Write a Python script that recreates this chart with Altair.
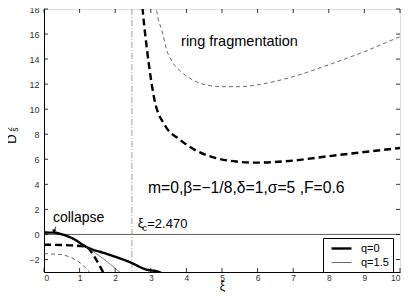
import altair as alt
import pandas as pd

# ---- data ----
q0_upper_xi = [2.74, 2.77, 2.9, 3.1, 3.4, 3.8, 4.27, 4.83, 5.4, 5.95, 7.0, 8.0, 9.0, 10.0]
q0_upper_D = [19.0, 18.0, 14.6, 10.8, 8.7, 7.6, 6.7, 6.1, 5.82, 5.73, 5.9, 6.25, 6.58, 6.9]

q15_upper_xi = [3.12, 3.16, 3.32, 3.46, 3.6, 3.85, 4.08, 4.4, 5.0, 5.5, 6.0, 7.0, 8.0, 9.0, 10.0]
q15_upper_D = [19.0, 18.0, 16.2, 14.6, 13.8, 13.0, 12.5, 12.05, 11.8, 11.8, 11.95, 12.6, 13.55, 14.6, 15.8]

q0_low_solid_xi = [0.0, 0.3, 0.45, 0.82, 1.19, 1.75, 2.4, 2.87, 3.24, 3.3]
q0_low_solid_D = [0.15, 0.14, 0.05, -0.34, -1.0, -1.54, -2.2, -2.8, -3.0, -3.1]

q0_low_dash_xi = [0.0, 0.73, 1.0, 1.19, 1.42, 1.66, 1.7]
q0_low_dash_D = [-0.82, -0.87, -0.92, -1.0, -1.8, -3.0, -3.2]

q15_low_solid_xi = [1.19, 1.66, 2.12, 2.16]
q15_low_solid_D = [-1.0, -1.93, -3.0, -3.1]

q15_low_dash_xi = [0.0, 0.45, 0.82, 1.1, 1.28, 1.32]
q15_low_dash_D = [-1.54, -1.6, -1.93, -2.47, -3.0, -3.1]

xi_c = [2.47]
x_ticks = list(range(0, 11))
y_ticks = list(range(-2, 19, 2))
q_labels = ["q=0", "q=1.5"]

curves = [
    ("q0u", q_labels[0], q0_upper_xi, q0_upper_D),
    ("q15u", q_labels[1], q15_upper_xi, q15_upper_D),
    ("q0ls", q_labels[0], q0_low_solid_xi, q0_low_solid_D),
    ("q0ld", q_labels[0], q0_low_dash_xi, q0_low_dash_D),
    ("q15ls", q_labels[1], q15_low_solid_xi, q15_low_solid_D),
    ("q15ld", q_labels[1], q15_low_dash_xi, q15_low_dash_D),
]
rows = []
for cid, q, xs_, ys_ in curves:
    for i, (a, b) in enumerate(zip(xs_, ys_)):
        rows.append({"curve": cid, "q": q, "xi": a, "D": b, "i": i})
df = pd.DataFrame(rows)

W, H = 356, 263
FONT = "Liberation Sans"

xs = alt.Scale(domain=[0, 10], nice=False, zero=False)
ys = alt.Scale(domain=[-3, 18], nice=False, zero=False)
X_AX = alt.Axis(values=x_ticks, title="ξ", grid=False, tickSize=0, labelPadding=1,
                labelFontSize=8.5, labelColor="#333", labelOverlap=False, labelFont=FONT,
                titleFont=FONT, titleFontSize=12, titleFontWeight="normal",
                titlePadding=-1, domainColor="black")
Y_AX = alt.Axis(values=y_ticks, title=None, grid=False, tickSize=0, labelPadding=5,
                labelFontSize=9, labelColor="#333", labelOverlap=False, labelFont=FONT,
                domainColor="black")


def X(field="xi"):
    return alt.X(f"{field}:Q", scale=xs, axis=X_AX)


def Y(field="D"):
    return alt.Y(f"{field}:Q", scale=ys, axis=Y_AX)


lines = alt.Chart(df).mark_line(clip=True, interpolate="monotone").encode(
    x=X(), y=Y(),
    order="i:Q",
    color=alt.Color("q:O", scale=alt.Scale(domain=q_labels, range=["black", "#444"]),
                    legend=alt.Legend(title=None, orient="none", legendX=279, legendY=229,
                                      fillColor="white", strokeColor="black", padding=4,
                                      symbolType="M-2,0H2", symbolSize=100, symbolOffset=8,
                                      labelFontSize=11, labelFont=FONT, labelOffset=13,
                                      labelExpr="datum.label + '  '",
                                      rowPadding=2, cornerRadius=0)),
    strokeWidth=alt.StrokeWidth("q:O", scale=alt.Scale(domain=q_labels, range=[2.4, 0.8])),
    strokeDash=alt.StrokeDash("curve:N",
                              scale=alt.Scale(domain=["q0u", "q15u", "q0ls", "q0ld", "q15ls", "q15ld"],
                                              range=[[7, 4], [4, 3], [1, 0], [7, 4], [1, 0], [4, 3]]),
                              legend=None),
)

vline = alt.Chart(pd.DataFrame({"xi": xi_c})).mark_rule(
    color="#888", strokeWidth=0.8, strokeDash=[6, 2, 1, 2]).encode(x=X())
hline = alt.Chart(pd.DataFrame({"D": [0]})).mark_rule(color="#333", strokeWidth=0.8).encode(y=Y())

xt = pd.DataFrame({"xi": x_ticks})
yt = pd.DataFrame({"D": y_ticks})
tick_b = alt.Chart(xt).mark_rule(color="black", strokeWidth=0.8).encode(
    x=X(), y=alt.value(H), y2=alt.value(H - 4))
tick_t = alt.Chart(xt).mark_rule(color="black", strokeWidth=0.8).encode(
    x=X(), y=alt.value(0), y2=alt.value(4))
tick_l = alt.Chart(yt).mark_rule(color="black", strokeWidth=0.8).encode(
    y=Y(), x=alt.value(0), x2=alt.value(4))
tick_r = alt.Chart(yt).mark_rule(color="black", strokeWidth=0.8).encode(
    y=Y(), x=alt.value(W), x2=alt.value(W - 4))


def label(text, x, y, size, align="left"):
    return alt.Chart(pd.DataFrame({"xi": [x], "D": [y], "t": [text]})).mark_text(
        font=FONT, fontSize=size, align=align, baseline="middle", color="black").encode(
        x=X(), y=Y(), text="t:N")


t_ring = label("ring fragmentation", 3.85, 15.4, 14.5)
t_par = label("m=0,β=−1/8,δ=1,σ=5 ,F=0.6", 2.92, 3.7, 15.7)
t_col = label("collapse", 0.25, 1.3, 14)
t_xi = label("ξ", 2.63, 0.95, 13)
t_c = label("c", 2.77, 0.5, 9)
t_val = label("=2.470", 2.9, 0.87, 13)

arrow_df = pd.DataFrame({"xi": [0.33, 0.29], "D": [0.62, 0.28]})
arrow_line = alt.Chart(arrow_df).mark_line(color="black", strokeWidth=0.8).encode(x=X(), y=Y())
arrow_head = alt.Chart(pd.DataFrame({"xi": [0.285], "D": [0.25]})).mark_point(
    shape="triangle-down", filled=True, color="black", size=18, opacity=1).encode(x=X(), y=Y())

ylab = alt.Chart(pd.DataFrame({"t": ["D"]})).mark_text(
    font=FONT, fontSize=13, angle=270, align="center", baseline="middle").encode(
    x=alt.value(-32.5), y=alt.value(130), text="t:N")
ylab2 = alt.Chart(pd.DataFrame({"t": ["2"]})).mark_text(
    font=FONT, fontSize=8.5, angle=270, align="center", baseline="middle").encode(
    x=alt.value(-35.5), y=alt.value(120.5), text="t:N")
ylabs = alt.Chart(pd.DataFrame({"t": ["s"]})).mark_text(
    font=FONT, fontSize=8.5, angle=270, align="center", baseline="middle").encode(
    x=alt.value(-29.5), y=alt.value(120.5), text="t:N")

chart = alt.layer(
    hline, vline, lines, tick_b, tick_t, tick_l, tick_r,
    t_ring, t_par, t_col, t_xi, t_c, t_val, arrow_line, arrow_head, ylab, ylab2, ylabs,
).properties(
    width=W, height=H,
    autosize=alt.AutoSizeParams(type="none"),
    padding={"left": 36, "top": 1, "right": 1, "bottom": 20},
).configure_view(stroke="black", strokeWidth=1).configure(background="white")

chart.save("out.html", embed_options={"renderer": "svg", "actions": False})
